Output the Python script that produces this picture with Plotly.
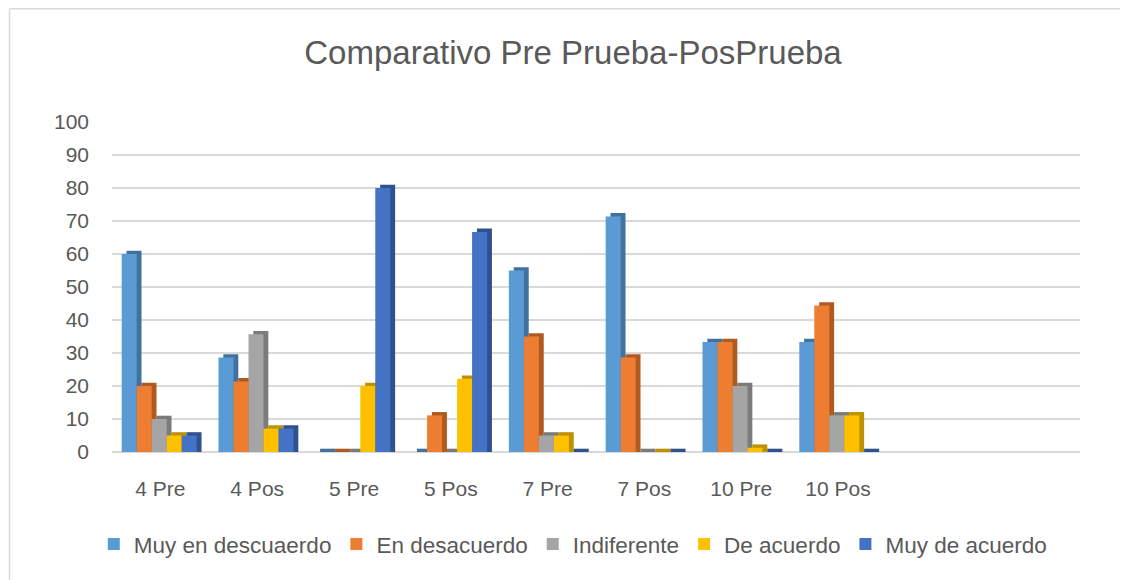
import plotly.graph_objects as go

categories = ["4 Pre", "4 Pos", "5 Pre", "5 Pos", "7 Pre", "7 Pos", "10 Pre", "10 Pos", " ", "  "]
series_names = ["Muy en descuaerdo", "En desacuerdo", "Indiferente", "De acuerdo", "Muy de acuerdo"]
muy_en_desacuerdo = [60, 28.6, 0, 0, 55, 71.4, 33.3, 33.3, None, None]
en_desacuerdo = [20, 21.4, 0, 11.1, 35, 28.6, 33.3, 44.4, None, None]
indiferente = [10, 35.7, 0, 0, 5, 0, 20, 11.1, None, None]
de_acuerdo = [5, 7.1, 20, 22.2, 5, 0, 1.3, 11.1, None, None]
muy_de_acuerdo = [5, 7.1, 80, 66.7, 0, 0, 0, 0, None, None]
series_values = [muy_en_desacuerdo, en_desacuerdo, indiferente, de_acuerdo, muy_de_acuerdo]

front_colors = ["#5B9BD5", "#ED7D31", "#A5A5A5", "#FFC000", "#4472C4"]
side_colors = ["#41719C", "#AE5A21", "#7B7B7B", "#BF9000", "#2F528F"]

bar_w = 0.155
start = -0.40
depth_x = 0.05
depth_y = 1.0

fig = go.Figure()
# side/top faces (drawn first)
for i, (name, vals) in enumerate(zip(series_names, series_values)):
    fig.add_trace(go.Bar(
        x=categories, y=[None if v is None else v + depth_y for v in vals],
        offset=start + i * bar_w + depth_x, width=bar_w,
        marker=dict(color=side_colors[i], line=dict(width=0)),
        showlegend=False, hoverinfo="skip"))
# front faces
for i, (name, vals) in enumerate(zip(series_names, series_values)):
    fig.add_trace(go.Bar(
        x=categories, y=vals, name=name,
        offset=start + i * bar_w, width=bar_w,
        marker=dict(color=front_colors[i], line=dict(width=0))))

W, H = 1128, 580
L, T = 104, 114
pw, ph = 968, 330
R, B = W - L - pw, H - T - ph

border_x = (1.5 - L) / pw
border_top = (ph + T - 0.75) / ph
border_right = (W - L) / pw
border_bottom = -B / ph

font_family = "Liberation Sans"
fig.update_layout(
    width=W, height=H,
    barmode="overlay",
    paper_bgcolor="white", plot_bgcolor="white",
    margin=dict(l=L, r=R, t=T, b=B, autoexpand=False),
    title=dict(text="Comparativo Pre Prueba-PosPrueba", x=(573 - 8) / W, xref="container", xanchor="center",
               y=1 - 44 / H, yanchor="middle", font=dict(family=font_family, size=33, color="#595959")),
    font=dict(family=font_family, color="#595959"),
    xaxis=dict(type="category", range=[-0.5, 9.5], showgrid=False, showline=False, ticks="",
               automargin=False,
               tickfont=dict(size=21, color="#595959"), ticklabelstandoff=22),
    yaxis=dict(range=[0, 100], dtick=10, showgrid=True, gridcolor="#D9D9D9", gridwidth=2,
               automargin=False,
               zeroline=True, zerolinecolor="#D9D9D9", zerolinewidth=2, showline=False,
               tickfont=dict(size=21, color="#595959"), ticklabelstandoff=22),
    legend=dict(orientation="h", x=0.476, xanchor="center", y=-0.28, yanchor="middle",
                font=dict(size=22.5, color="#595959"), traceorder="normal"),
    shapes=[
        dict(type="line", xref="paper", yref="paper",
             x0=border_x, x1=border_right, y0=border_top, y1=border_top,
             line=dict(color="#D9D9D9", width=1.5), layer="below"),
        dict(type="line", xref="paper", yref="paper",
             x0=border_x, x1=border_x, y0=border_bottom, y1=border_top,
             line=dict(color="#D9D9D9", width=1.5), layer="below"),
    ],
)

fig.write_html("out.html")
